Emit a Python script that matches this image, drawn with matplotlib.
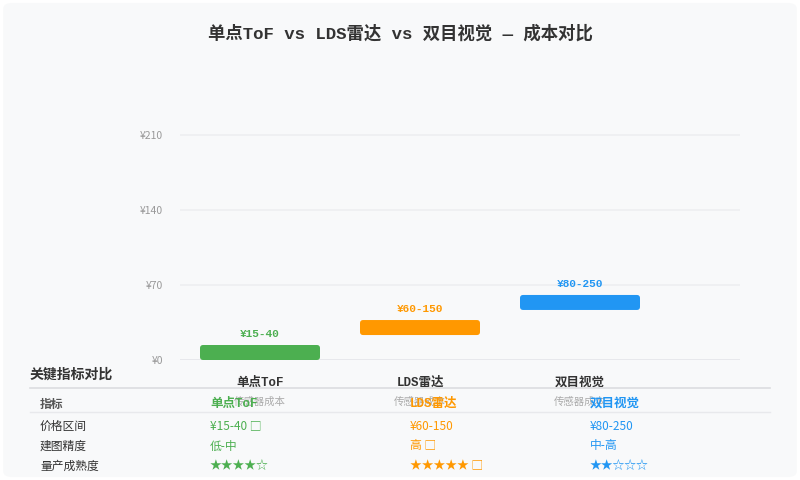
import matplotlib
matplotlib.use("Agg")
import matplotlib.pyplot as plt
from matplotlib.patches import FancyBboxPatch
from matplotlib.lines import Line2D

# === DATOS ===
categorias = ["单点ToF", "LDS雷达", "双目视觉"]
subtitulo = "传感器成本"
barra_inicio = [0, 23.3, 46.7]
barra_fin = [14, 37.3, 60.7]
etiquetas_precio = ["¥15-40", "¥60-150", "¥80-250"]
colores = ["#4caf50", "#ff9800", "#2196f3"]
yticks = [0, 70, 140, 210]
ytick_labels = ["¥0", "¥70", "¥140", "¥210"]

titulo = "单点ToF vs LDS雷达 vs 双目视觉 — 成本对比"
tabla_titulo = "关键指标对比"
tabla_header = ["指标"] + categorias
tabla_filas = ["价格区间", "建图精度", "量产成熟度"]
tabla_valores = [
    ["¥15-40 □", "¥60-150", "¥80-250"],
    ["低-中", "高 □", "中-高"],
    ["★★★★☆", "★★★★★ □", "★★☆☆☆"],
]

MONO = ["Liberation Mono", "Noto Sans CJK SC", "DejaVu Sans"]
SANS = ["Noto Sans CJK SC", "DejaVu Sans"]
plt.rcParams["font.family"] = SANS

W, H = 800, 480
fig = plt.figure(figsize=(8, 4.8), dpi=100, facecolor="white")


def fx(px):
    return px / W


def fy(py):
    return 1 - py / H


# tarjeta de fondo con esquinas redondeadas
card = FancyBboxPatch((0.004, 0.006), 0.992, 0.988,
                      boxstyle="round,pad=0,rounding_size=0.012",
                      transform=fig.transFigure, facecolor="#f8f9fa",
                      edgecolor="none", zorder=-5)
fig.patches.append(card)

fig.text(fx(400), fy(33), titulo, ha="center", va="center",
         fontsize=12.5, fontweight="bold", color="#333333", family=MONO)

# === GRAFICO ===
ax = fig.add_axes([fx(180), 1 - 360 / H, fx(560), 230 * 75 / 70 / H])
ax.set_facecolor("none")
ax.set_xlim(-0.5, 3.0)
ax.set_ylim(0, 230)
for s in ax.spines.values():
    s.set_visible(False)

for v in yticks:
    ax.axhline(v, color="#e5e7eb" if v == 0 else "#eeeff1",
               lw=2 if v == 0 else 1.2, zorder=1)

x = list(range(len(categorias)))
alturas = [f - i for i, f in zip(barra_inicio, barra_fin)]
bars = ax.bar(x, alturas, bottom=barra_inicio, width=0.75, color=colores, zorder=2)
for b, c in zip(bars, colores):
    r = FancyBboxPatch((b.get_x(), b.get_y()), b.get_width(), b.get_height(),
                       boxstyle="round,pad=0,rounding_size=0.02",
                       mutation_aspect=149, facecolor=c, edgecolor="none", zorder=3)
    ax.add_patch(r)
    b.set_visible(False)

for xi, top, lab, c in zip(x, barra_fin, etiquetas_precio, colores):
    ax.annotate(lab, (xi, top), xytext=(0, 4), textcoords="offset points",
                ha="center", va="bottom", fontsize=8, fontweight="bold",
                color=c, family=MONO)

ax.set_yticks(yticks)
ax.set_yticklabels(ytick_labels, fontsize=7.5, color="#999999", family=SANS)
ax.tick_params(axis="y", length=0, pad=12)
ax.set_xticks(x)
ax.set_xticklabels(categorias, fontsize=9, fontweight="bold", color="#333333", family=MONO)
ax.tick_params(axis="x", length=0, pad=12)
for xi in x:
    ax.annotate(subtitulo, (xi, 0), xytext=(0, -30), textcoords="offset points",
                ha="center", va="center", fontsize=7.5, color="#aaaaaa", family=SANS)

# === TABLA ===
fig.text(fx(30), fy(375), tabla_titulo, ha="left", va="center",
         fontsize=10, fontweight="bold", color="#333333")
fig.add_artist(Line2D([fx(30), fx(770)], [fy(388), fy(388)],
                      color="#dcdde0", lw=1.2, transform=fig.transFigure))
fig.add_artist(Line2D([fx(30), fx(770)], [fy(412), fy(412)],
                      color="#e8e9ec", lw=1, transform=fig.transFigure))

col_x = [40, 210, 410, 590]
fig.text(fx(col_x[0]), fy(404), tabla_header[0], ha="left", va="center",
         fontsize=8.5, fontweight="bold", color="#555555")
for cx, name, c in zip(col_x[1:], tabla_header[1:], colores):
    fig.text(fx(cx), fy(404), name, ha="left", va="center",
             fontsize=9, fontweight="bold", color=c, family=MONO)

for i, (fila, vals) in enumerate(zip(tabla_filas, tabla_valores)):
    py = 426 + i * 20
    fig.text(fx(col_x[0]), fy(py), fila, ha="left", va="center",
             fontsize=8.5, color="#333333")
    for cx, v, c in zip(col_x[1:], vals, colores):
        fig.text(fx(cx), fy(py), v, ha="left", va="center",
                 fontsize=8.5, color=c)

fig.savefig("out.png", dpi=100, facecolor="white")
